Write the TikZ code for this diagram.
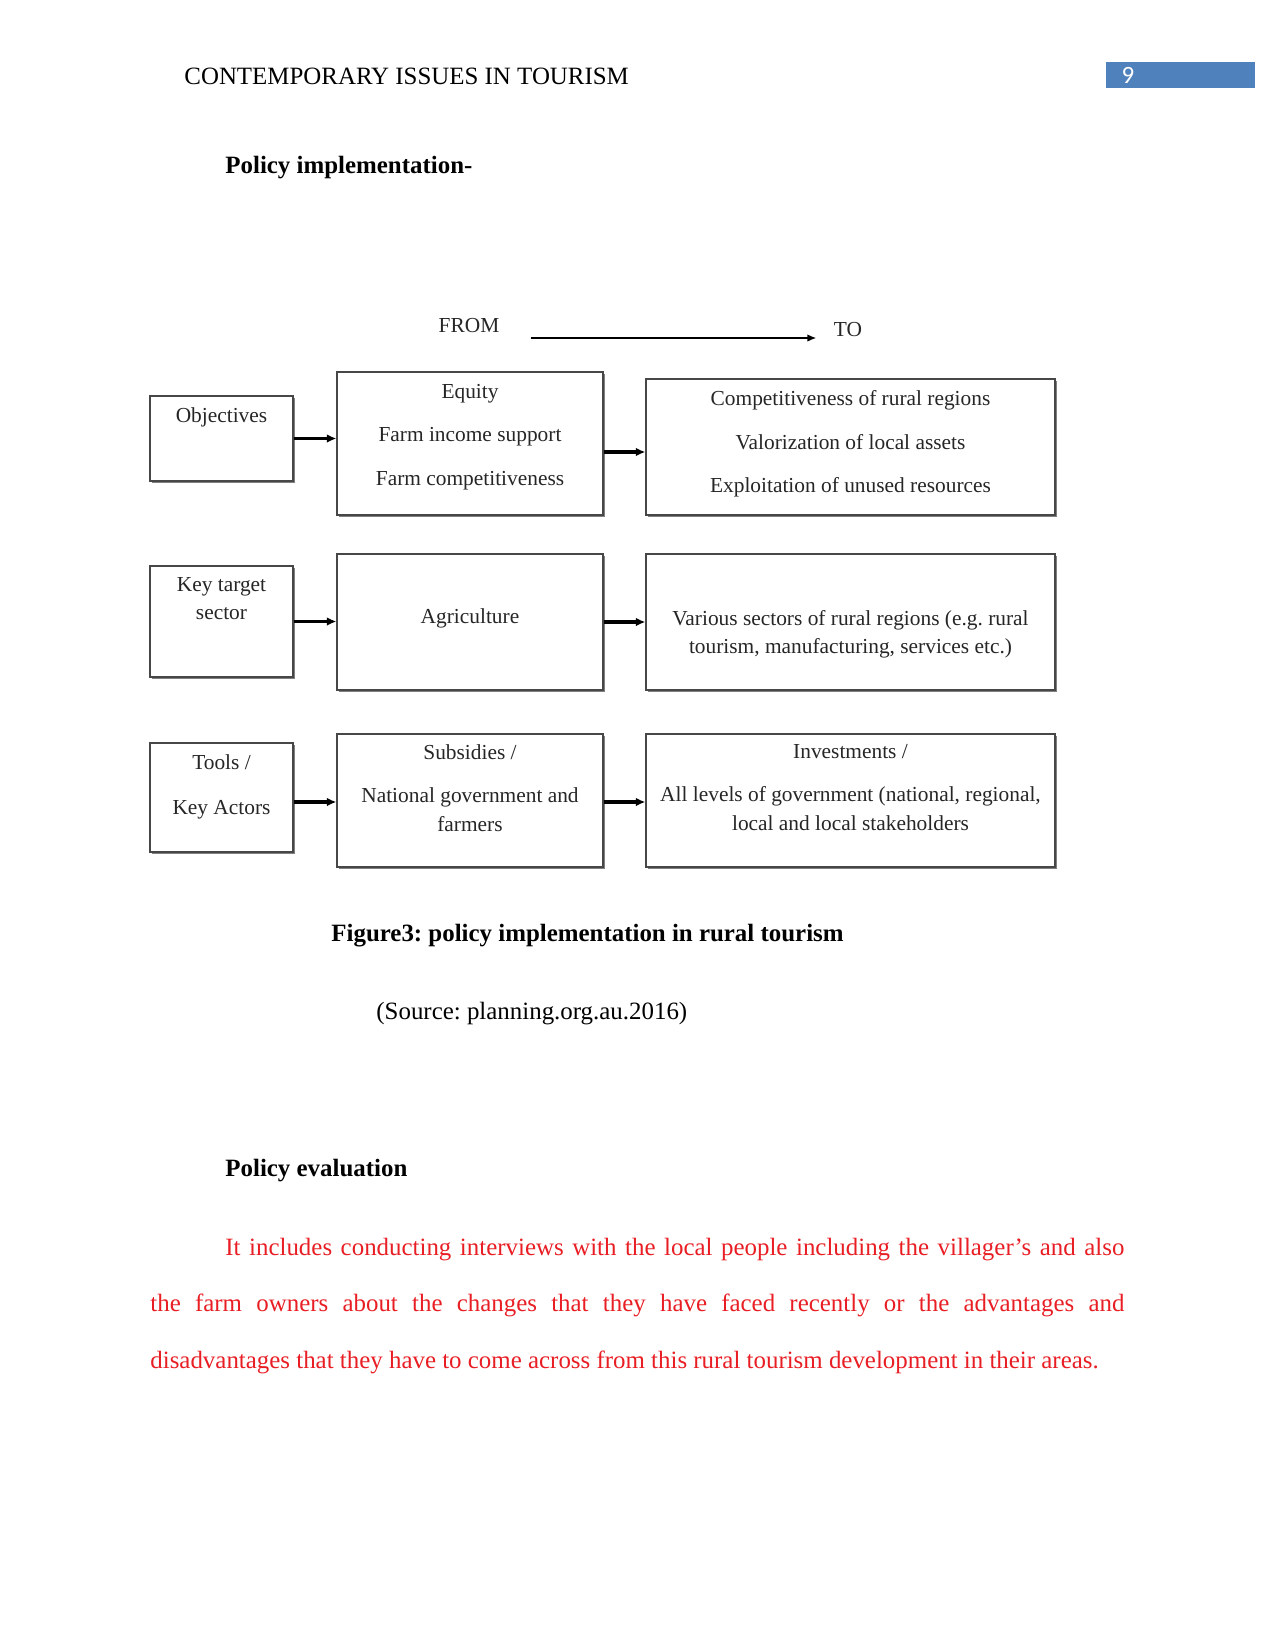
\documentclass[tikz,border=0pt]{standalone}
\usepackage{fontspec}
\setmainfont{Liberation Serif}
\newfontfamily\numfont{Carlito}
\usepackage{xcolor}
\usetikzlibrary{arrows.meta, positioning, calc, shadows}
\definecolor{headblue}{RGB}{79, 129, 189}
\definecolor{evalred}{RGB}{232, 30, 36}
\newdimen\pxunit
\pxunit=0.48bp
\frenchspacing

\begin{document}
\begin{tikzpicture}[
  x=0.48bp, y=-0.48bp,
  every node/.style={font=\fontsize{12}{14}\selectfont, inner sep=0pt},
  box/.style={
    draw=black!72, line width=0.6pt, fill=white,
    drop shadow={shadow xshift=0.8pt, shadow yshift=-0.8pt, fill=black!50, opacity=1}
  },
  lbox/.style={box, minimum width=143\pxunit},
  mbox/.style={box, minimum width=266\pxunit},
  rbox/.style={box, minimum width=409\pxunit},
  txt/.style={font=\fontsize{10.3}{12.3}\selectfont, align=center, text=black!85},
  arrow/.style={-{Latex[length=4.6bp, width=4.2bp]}, line width=1.6pt},
  thin arrow/.style={-{Latex[length=4.4bp, width=3.6bp]}, line width=0.9pt},
  head/.style={font=\fontsize{12}{14}\selectfont\bfseries, anchor=west}
]
\useasboundingbox (0,0) rectangle (1275,1650);

  % page header
\node[anchor=west] (header) at (184,76) {CONTEMPORARY ISSUES IN TOURISM};
\node[fill=headblue, minimum width=149\pxunit, minimum height=26\pxunit] (pagebox) at (1180.5,75) {};
\node[text=white, font=\numfont\fontsize{12}{14}\selectfont] (pagenum) at (1128,75) {9};

\node[head] (implhead) at (225,168) {Policy implementation-};

  % from -> to
\node[txt] (from) at (469,326) {FROM};
\node[txt] (to) at (848,330) {TO};
\draw[thin arrow] ($(from.east)+(31,12)$) -- ($(to.west)+(-17,8)$);

  % boxes, row by row
\node[lbox, minimum height=85\pxunit] (obj) at (221.5,438.5) {};
\node[mbox, minimum height=143\pxunit] (eq) at (470,443.5) {};
\node[rbox, minimum height=136\pxunit] (comp) at (850.5,447) {};

\node[lbox, minimum height=111\pxunit] (key) at (221.5,621.5) {};
\node[mbox, minimum height=136\pxunit] (agr) at (470,622) {};
\node[rbox, minimum height=136\pxunit] (var) at (850.5,622) {};

\node[lbox, minimum height=109\pxunit] (tools) at (221.5,797.5) {};
\node[mbox, minimum height=133\pxunit] (sub) at (470,800.5) {};
\node[rbox, minimum height=133\pxunit] (inv) at (850.5,800.5) {};

  % box texts
\node[txt, below=5.8bp of obj.north] (objtxt) {Objectives};
\node[txt, below=6bp of eq.north] (eqtxt) {Equity\\[8.6bp] Farm income support\\[8.6bp] Farm competitiveness};
\node[txt, below=5.8bp of comp.north] (comptxt) {Competitiveness of rural regions\\[8.6bp] Valorization of local assets\\[8.6bp] Exploitation of unused resources};
\node[txt, below=5.8bp of key.north] (keytxt) {Key target\\[1.2bp] sector};
\node[txt, below=26.5bp of agr.north] (agrtxt) {Agriculture};
\node[txt, below=27bp of var.north] (vartxt) {Various sectors of rural regions (e.g. rural\\[1.2bp] tourism, manufacturing, services etc.)};
\node[txt, below=5.8bp of tools.north] (toolstxt) {Tools /\\[9.2bp] Key Actors};
\node[txt, below=5.3bp of sub.north] (subtxt) {Subsidies /\\[8.2bp] National government and\\[1.6bp] farmers};
\node[txt, below=5.3bp of inv.north] (invtxt) {Investments /\\[8.2bp] All levels of government (national, regional,\\[1.6bp] local and local stakeholders};

  % connectors
\draw[arrow] (obj.east) -- (obj.east -| eq.west);
\draw[arrow] ($(eq.east)+(0,8.5)$) -- ($(eq.east -| comp.west)+(0,8.5)$);
\draw[arrow] (key.east) -- (key.east -| agr.west);
\draw[arrow] (agr.east) -- (var.west);
\draw[arrow] ($(tools.east)+(0,4.5)$) -- ($(tools.east -| sub.west)+(0,4.5)$);
\draw[arrow] ($(sub.east)+(0,1.5)$) -- ($(sub.east -| inv.west)+(0,1.5)$);

  % caption and source
\node[head] (caption) at (331,936) {Figure3: policy implementation in rural tourism};
\node[anchor=west] (source) at (376,1014) {(Source: planning.org.au.2016)};

\node[head] (evalhead) at (225,1171) {Policy evaluation};
\node[anchor=base west, text width=974\pxunit, align=justify, text=evalred,
  font=\fontsize{12}{27.4}\selectfont] (evaltext) at (150,1255)
  {\hspace*{36bp}It includes conducting interviews with the local people including the villager’s and also\linebreak
   the farm owners about the changes that they have faced recently or the advantages and\linebreak
   disadvantages that they have to come across from this rural tourism development in their areas.};

\end{tikzpicture}
\end{document}
